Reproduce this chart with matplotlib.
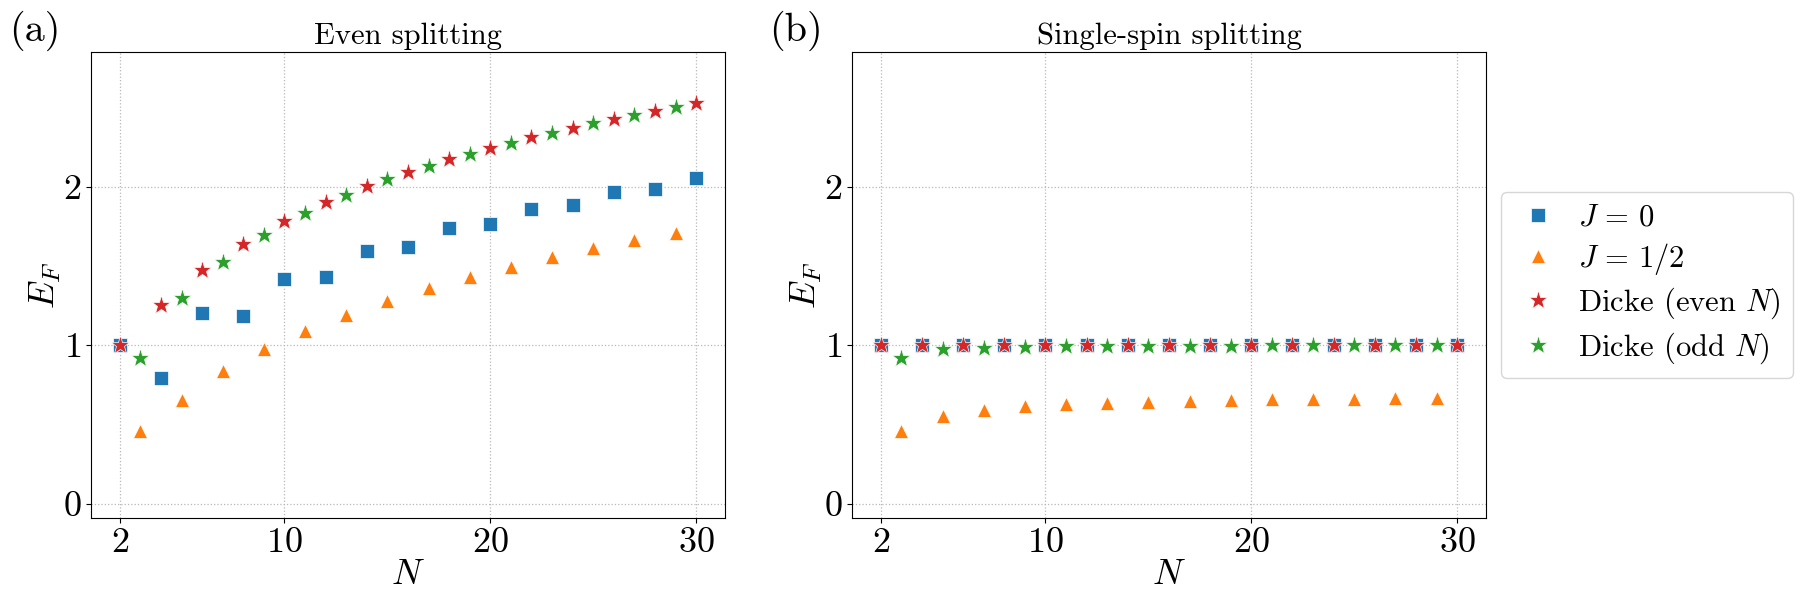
import numpy as np
import matplotlib
matplotlib.use('Agg')
import matplotlib.pyplot as plt

plt.rcParams['font.family'] = 'serif'
plt.rcParams['font.serif'] = ['cmr10']
plt.rcParams['mathtext.fontset'] = 'cm'
plt.rcParams['axes.formatter.use_mathtext'] = True

# system sizes
n_even = [2, 4, 6, 8, 10, 12, 14, 16, 18, 20, 22, 24, 26, 28, 30]
n_odd = [3, 5, 7, 9, 11, 13, 15, 17, 19, 21, 23, 25, 27, 29]

# (a) even splitting
even_j0 = [1.0, 0.79, 1.20, 1.185, 1.418, 1.432, 1.595, 1.617, 1.740, 1.762,
           1.860, 1.882, 1.966, 1.985, 2.054]
even_jhalf = [0.459, 0.656, 0.838, 0.973, 1.088, 1.189, 1.280, 1.359, 1.430,
              1.496, 1.555, 1.612, 1.661, 1.710]
even_dicke_even = [1.0, 1.251, 1.472, 1.641, 1.784, 1.902, 2.002, 2.093, 2.174,
                   2.246, 2.312, 2.371, 2.428, 2.477, 2.526]
even_dicke_odd = [0.919, 1.297, 1.528, 1.698, 1.835, 1.948, 2.047, 2.133, 2.206,
                  2.278, 2.339, 2.400, 2.452, 2.504]

# (b) single-spin splitting
single_j0 = [1.0] * 15
single_jhalf = [0.459, 0.550, 0.592, 0.617, 0.627, 0.636, 0.644, 0.649, 0.654,
                0.658, 0.661, 0.663, 0.666, 0.668]
single_dicke_even = [1.0] * 15
single_dicke_odd = [0.919, 0.973, 0.985, 0.990, 0.993, 0.995, 0.996, 0.997,
                    0.997, 0.998, 0.998, 0.998, 0.999, 0.999]

titles = ['Even splitting', 'Single-spin splitting']
panel_tags = ['(a)', '(b)']


def draw_panel(ax, j0, jhalf, d_even, d_odd, title):
    kw = dict(linestyle='none', mec='white', mew=0.5)
    ax.plot(n_even, j0, 's', color='C0', ms=9.5, label=r'$J\,=\,0$', **kw)
    ax.plot(n_odd, jhalf, '^', color='C1', ms=10, label=r'$J\,=\,1/2$', **kw)
    ax.plot(n_even, d_even, '*', color='C3', ms=14, label=r'Dicke (even $N$)', **kw)
    ax.plot(n_odd, d_odd, '*', color='C2', ms=14, label=r'Dicke (odd $N$)', **kw)
    ax.set_ylim(-0.09, 2.85)
    ax.set_xticks([2, 10, 20, 30])
    ax.set_yticks([0, 1, 2])
    ax.grid(True, linestyle=':', color='0.72', linewidth=0.9)
    ax.set_axisbelow(True)
    ax.tick_params(labelsize=26)
    ax.set_xlabel(r'$N$', fontsize=26, labelpad=0)
    ax.set_ylabel(r'$E_F$', fontsize=26, labelpad=0)
    ax.set_title(title, fontsize=22)


fig = plt.figure(figsize=(18.02, 6.05), dpi=100)
ax1 = fig.add_axes([0.0505, 0.144, 0.3518, 0.770])
ax2 = fig.add_axes([0.4728, 0.144, 0.3518, 0.770])

draw_panel(ax1, even_j0, even_jhalf, even_dicke_even, even_dicke_odd, titles[0])
draw_panel(ax2, single_j0, single_jhalf, single_dicke_even, single_dicke_odd, titles[1])

fig.text(0.005, 0.949, panel_tags[0], fontsize=29, va='center', ha='left')
fig.text(0.427, 0.949, panel_tags[1], fontsize=29, va='center', ha='left')

ax2.legend(loc='center left', bbox_to_anchor=(1.0, 0.5), fontsize=22,
           handlelength=1.6, handletextpad=0.5, labelspacing=0.3,
           borderaxespad=0.5, borderpad=0.4)

fig.savefig('out.png', dpi=100)
